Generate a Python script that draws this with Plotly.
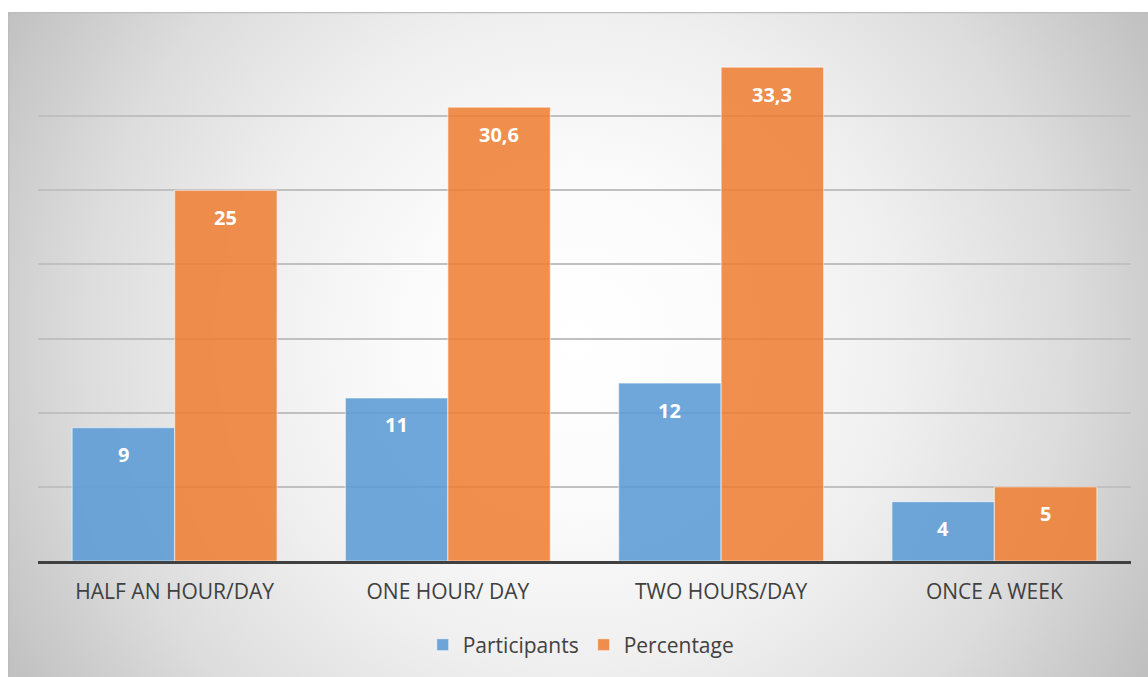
import base64
import plotly.graph_objects as go

# Survey data: time spent per day/week
categories = ["HALF AN HOUR/DAY", "ONE HOUR/ DAY", "TWO HOURS/DAY", "ONCE A WEEK"]
participants = [9, 11, 12, 4]
percentage = [25, 30.6, 33.3, 5]

W, H = 1148, 677
ML, MR, MT, MB = 38, 17, 42, 116
PW, PH = W - ML - MR, H - MT - MB

BLUE = "rgba(91,155,213,0.88)"
ORANGE = "rgba(237,125,49,0.86)"
TEXT = "#404040"
FONT = "'Open Sans', Lato, sans-serif"


def fmt(v):
    # comma decimal separator
    return str(int(v)) if float(v).is_integer() else f"{v:.1f}".replace(".", ",")


# radial grey-to-white backdrop for the chart area
BW, BH = W - 8, H - 12
svg = f'''<svg xmlns="http://www.w3.org/2000/svg" width="{BW}" height="{BH}" viewBox="0 0 {BW} {BH}">
<defs><radialGradient id="g" gradientUnits="userSpaceOnUse" cx="567" cy="328" r="660">
<stop offset="0" stop-color="#ffffff"/>
<stop offset="0.25" stop-color="#fbfbfb"/>
<stop offset="0.5" stop-color="#efefef"/>
<stop offset="0.75" stop-color="#dcdcdc"/>
<stop offset="1" stop-color="#c0c0c0"/>
</radialGradient></defs>
<rect width="{BW}" height="{BH}" fill="url(#g)"/>
<path d="M0.5 {BH} V0.5 H{BW}" fill="none" stroke="#bdbdbd" stroke-width="1.5"/>
</svg>'''
bg_src = "data:image/svg+xml;base64," + base64.b64encode(svg.encode()).decode()

fig = go.Figure()
fig.add_trace(go.Bar(
    name="Participants", x=categories, y=participants,
    marker=dict(color=BLUE, line=dict(color="rgba(255,255,255,0.5)", width=1.2)),
))
fig.add_trace(go.Bar(
    name="Percentage", x=categories, y=percentage,
    marker=dict(color=ORANGE, line=dict(color="rgba(255,255,255,0.5)", width=1.2)),
))

# value labels just inside the top of each bar
bargap = 0.25
half = (1 - bargap) / 4
annotations = []
for i, (p, q) in enumerate(zip(participants, percentage)):
    for off, v in ((-half, p), (half, q)):
        annotations.append(dict(
            x=i + off, y=v, xref="x", yref="y", text=f"<b>{fmt(v)}</b>",
            showarrow=False, yshift=-27, yanchor="middle",
            font=dict(family=FONT, size=20, color="white"),
        ))

fig.update_layout(
    width=W, height=H,
    margin=dict(l=ML, r=MR, t=MT, b=MB),
    paper_bgcolor="white",
    plot_bgcolor="rgba(0,0,0,0)",
    barmode="group", bargap=bargap, bargroupgap=0,
    font=dict(family=FONT, color=TEXT),
    annotations=annotations,
    showlegend=True,
    legend=dict(
        orientation="h", x=0.497, xanchor="center", y=(561 - 645) / PH, yanchor="middle",
        font=dict(family=FONT, size=21, color=TEXT), bgcolor="rgba(0,0,0,0)",
        itemwidth=30,
    ),
    images=[dict(
        source=bg_src, xref="paper", yref="paper",
        x=(8 - ML) / PW, y=(561 - 12) / PH, sizex=BW / PW, sizey=BH / PH,
        xanchor="left", yanchor="top", sizing="stretch", layer="below",
    )],
)
fig.update_xaxes(
    showline=True, linecolor="#404040", linewidth=3, showgrid=False,
    ticks="", ticklabelstandoff=10,
    tickfont=dict(family=FONT, size=21, color=TEXT),
)
fig.update_yaxes(
    range=[0, 35], dtick=5, showticklabels=False, showgrid=True,
    gridcolor="#c0c0c0", gridwidth=1.5, zeroline=False, fixedrange=True,
)

fig.write_html("out.html")
